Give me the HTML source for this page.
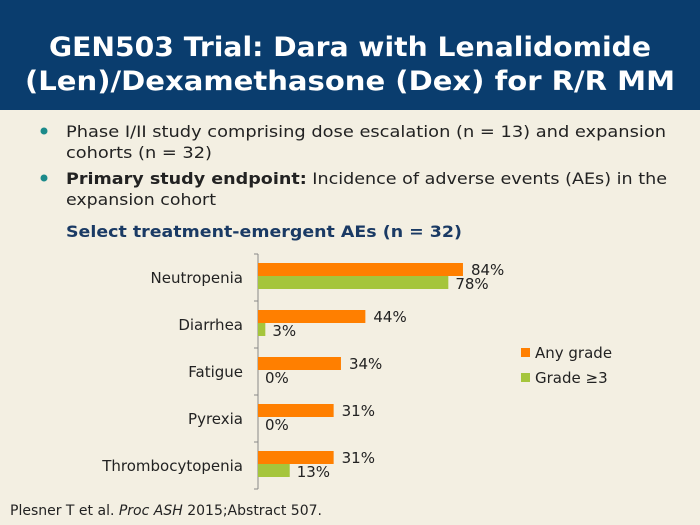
<!DOCTYPE html>
<html><head><meta charset="utf-8"><style>
body{margin:0;width:700px;height:525px;overflow:hidden;background:#f3efe2}
svg{display:block}
text{font-family:"DejaVu Sans","Liberation Sans",sans-serif}
</style></head><body>
<svg width="700" height="525" viewBox="0 0 700 525">
<rect x="0" y="0" width="700" height="525" fill="#f3efe2"/>
<rect x="0" y="0" width="700" height="110" fill="#0a3d6e"/>
<g fill="#fff" font-weight="bold" font-size="27" text-anchor="middle">
<text x="350" y="56" textLength="602" lengthAdjust="spacingAndGlyphs">GEN503 Trial: Dara with Lenalidomide</text>
<text x="350" y="90" textLength="650" lengthAdjust="spacingAndGlyphs">(Len)/Dexamethasone (Dex) for R/R MM</text>
</g>
<g font-size="16" fill="#222">
<circle cx="44" cy="131" r="3.5" fill="#1b8a8a"/>
<text x="66" y="137" textLength="600" lengthAdjust="spacingAndGlyphs">Phase I/II study comprising dose escalation (n = 13) and expansion</text>
<text x="66" y="158" textLength="146" lengthAdjust="spacingAndGlyphs">cohorts (n = 32)</text>
<circle cx="44" cy="178" r="3.5" fill="#1b8a8a"/>
<text x="66" y="184" textLength="601" lengthAdjust="spacingAndGlyphs"><tspan font-weight="bold">Primary study endpoint:</tspan> Incidence of adverse events (AEs) in the</text>
<text x="66" y="205" textLength="150" lengthAdjust="spacingAndGlyphs">expansion cohort</text>
</g>
<text x="66" y="237" font-size="16" font-weight="bold" fill="#1a3a64" textLength="396" lengthAdjust="spacingAndGlyphs">Select treatment-emergent AEs (n = 32)</text>
<g id="chart"></g>
<g font-size="15" fill="#222">
<rect x="521" y="348" width="9" height="9" fill="#ff7f00"/>
<text x="535" y="358">Any grade</text>
<rect x="521" y="373" width="9" height="9" fill="#a5c53c"/>
<text x="535" y="383">Grade ≥3</text>
</g>
<text x="10" y="515" font-size="14" fill="#222">Plesner T et al. <tspan font-style="italic">Proc ASH</tspan> 2015;Abstract 507.</text>
</svg>
<script>
const categories=["Neutropenia","Diarrhea","Fatigue","Pyrexia","Thrombocytopenia"];
const anyGrade=[84,44,34,31,31];
const grade3=[78,3,0,0,13];
const NS="http://www.w3.org/2000/svg";
const g=document.getElementById('chart');
const x0=258,pxPer=2.44,top0=254,band=47;
function xs(v){return x0+v*pxPer;}
function yb(i){return top0+i*band;}
function mk(t,a){const e=document.createElementNS(NS,t);for(const k in a)e.setAttribute(k,a[k]);g.appendChild(e);return e;}
const ax=mk('line',{x1:x0,y1:top0,x2:x0,y2:top0+band*categories.length,stroke:'#888','stroke-width':1});


for(let i=0;i<=categories.length;i++){
 const t=mk('line',{x1:x0-4,y1:yb(i),x2:x0,y2:yb(i),stroke:'#888'});
 
 
}
categories.forEach((c,i)=>{
 const y=yb(i);
 const l=mk('text',{x:243,y:y+29,'text-anchor':'end','font-size':15,fill:'#222'});l.textContent=c;
 
 
 const b1=mk('rect',{x:x0,y:y+9,width:xs(anyGrade[i])-x0,height:13,fill:'#ff7f00'});
 
 
 const b2=mk('rect',{x:x0,y:y+22,width:xs(grade3[i])-x0,height:13,fill:'#a5c53c'});
 
 
 const v1=mk('text',{x:xs(anyGrade[i])+8,y:y+21,'font-size':15,fill:'#222'});v1.textContent=anyGrade[i]+'%';
 
 
 const v2=mk('text',{x:xs(grade3[i])+7,y:y+35,'font-size':15,fill:'#222'});v2.textContent=grade3[i]+'%';
 
 
});
</script>
</body></html>
